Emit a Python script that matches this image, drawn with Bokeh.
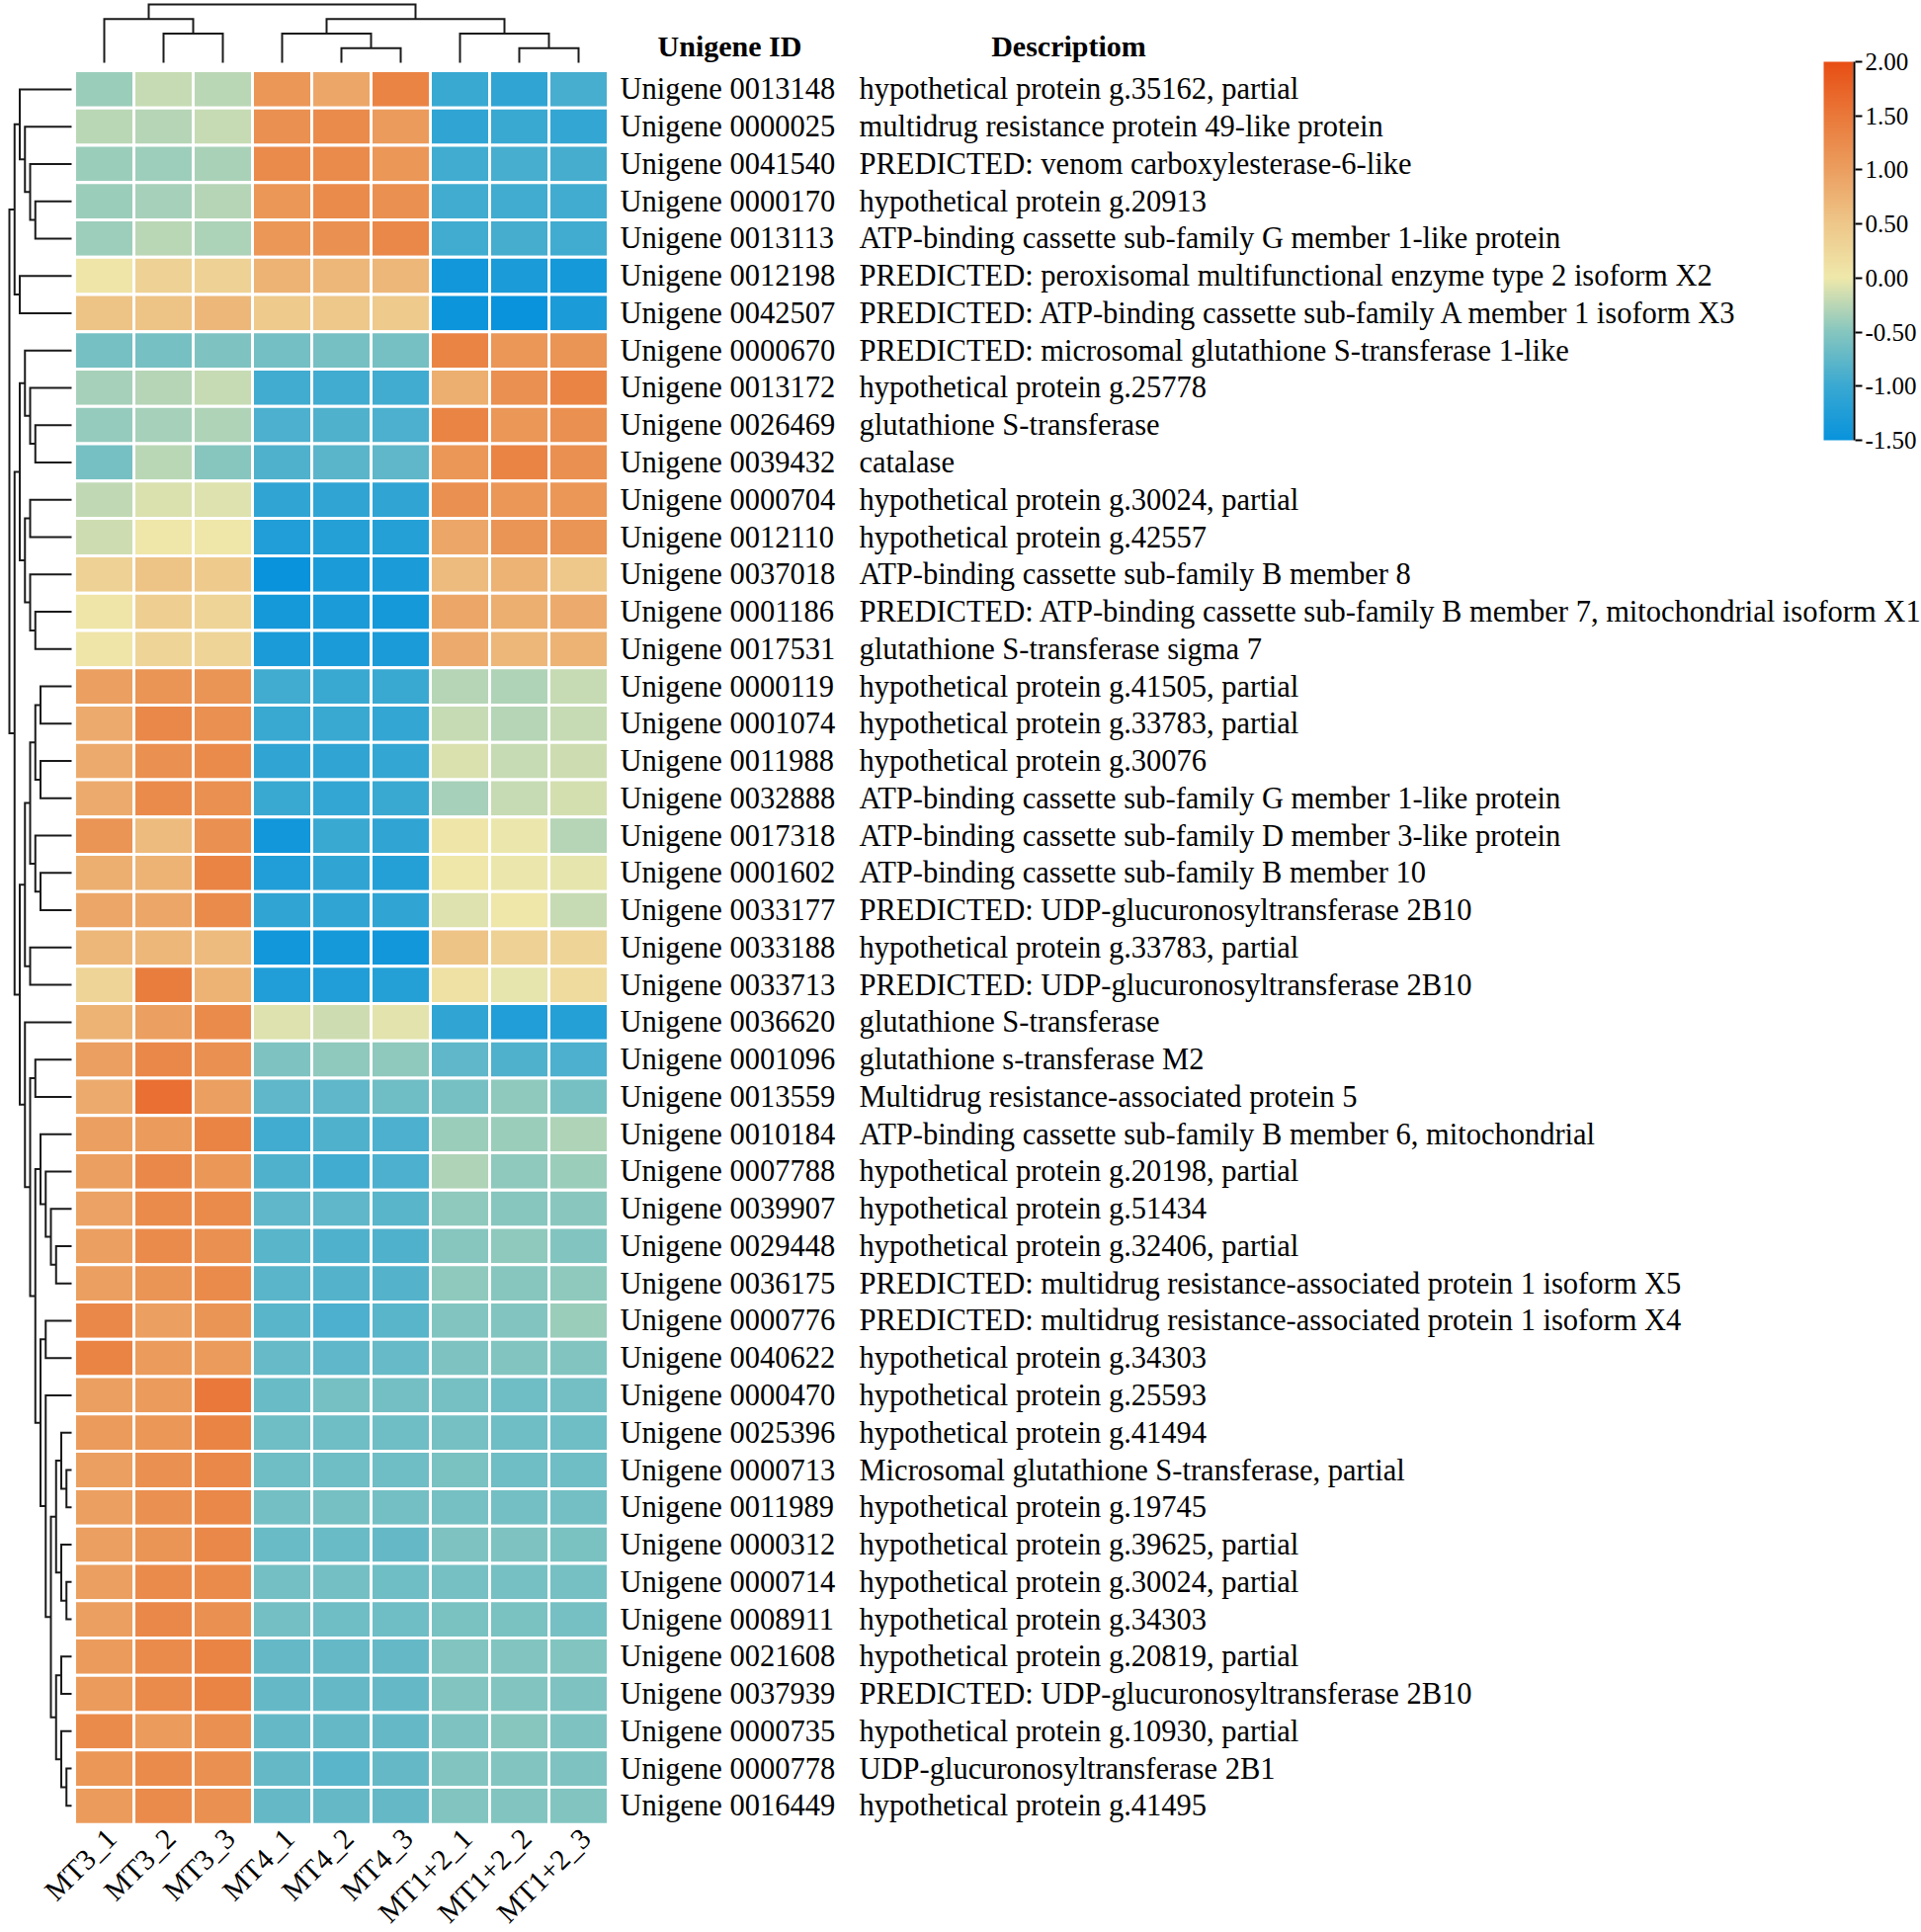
import numpy as np
from bokeh.plotting import figure
from bokeh.models import (ColumnDataSource, LinearColorMapper, ColorBar, FixedTicker,
                          PrintfTickFormatter, Range1d)
from bokeh.transform import transform
from bokeh.core.properties import value
from bokeh.embed import file_html
from bokeh.resources import INLINE

# ---------------- data ----------------
samples = ["MT3_1", "MT3_2", "MT3_3", "MT4_1", "MT4_2", "MT4_3", "MT1+2_1", "MT1+2_2", "MT1+2_3"]

unigene_ids = [
    "0013148", "0000025", "0041540", "0000170", "0013113", "0012198", "0042507", "0000670",
    "0013172", "0026469", "0039432", "0000704", "0012110", "0037018", "0001186", "0017531",
    "0000119", "0001074", "0011988", "0032888", "0017318", "0001602", "0033177", "0033188",
    "0033713", "0036620", "0001096", "0013559", "0010184", "0007788", "0039907", "0029448",
    "0036175", "0000776", "0040622", "0000470", "0025396", "0000713", "0011989", "0000312",
    "0000714", "0008911", "0021608", "0037939", "0000735", "0000778", "0016449"]

descriptions = [
    "hypothetical protein g.35162, partial",
    "multidrug resistance protein 49-like protein",
    "PREDICTED: venom carboxylesterase-6-like",
    "hypothetical protein g.20913",
    "ATP-binding cassette sub-family G member 1-like protein",
    "PREDICTED: peroxisomal multifunctional enzyme type 2 isoform X2",
    "PREDICTED: ATP-binding cassette sub-family A member 1 isoform X3",
    "PREDICTED: microsomal glutathione S-transferase 1-like",
    "hypothetical protein g.25778",
    "glutathione S-transferase",
    "catalase",
    "hypothetical protein g.30024, partial",
    "hypothetical protein g.42557",
    "ATP-binding cassette sub-family B member 8",
    "PREDICTED: ATP-binding cassette sub-family B member 7, mitochondrial isoform X1",
    "glutathione S-transferase sigma 7",
    "hypothetical protein g.41505, partial",
    "hypothetical protein g.33783, partial",
    "hypothetical protein g.30076",
    "ATP-binding cassette sub-family G member 1-like protein",
    "ATP-binding cassette sub-family D member 3-like protein",
    "ATP-binding cassette sub-family B member 10",
    "PREDICTED: UDP-glucuronosyltransferase 2B10",
    "hypothetical protein g.33783, partial",
    "PREDICTED: UDP-glucuronosyltransferase 2B10",
    "glutathione S-transferase",
    "glutathione s-transferase M2",
    "Multidrug resistance-associated protein 5",
    "ATP-binding cassette sub-family B member 6, mitochondrial",
    "hypothetical protein g.20198, partial",
    "hypothetical protein g.51434",
    "hypothetical protein g.32406, partial",
    "PREDICTED: multidrug resistance-associated protein 1 isoform X5",
    "PREDICTED: multidrug resistance-associated protein 1 isoform X4",
    "hypothetical protein g.34303",
    "hypothetical protein g.25593",
    "hypothetical protein g.41494",
    "Microsomal glutathione S-transferase, partial",
    "hypothetical protein g.19745",
    "hypothetical protein g.39625, partial",
    "hypothetical protein g.30024, partial",
    "hypothetical protein g.34303",
    "hypothetical protein g.20819, partial",
    "PREDICTED: UDP-glucuronosyltransferase 2B10",
    "hypothetical protein g.10930, partial",
    "UDP-glucuronosyltransferase 2B1",
    "hypothetical protein g.41495"]

# z-scores per sample (rows in the order above)
mt3_1 = [-0.40, -0.25, -0.40, -0.40, -0.38, 0.05, 0.55, -0.60, -0.35, -0.42, -0.60, -0.22, -0.15, 0.35, 0.05, 0.05,
         1.00, 0.85, 0.85, 0.85, 1.15, 0.80, 0.90, 0.70, 0.30, 0.75, 1.00, 0.85, 1.00, 1.00, 0.95,
         1.00, 1.00, 1.30, 1.35, 1.00, 1.05, 1.00, 1.00, 1.00, 1.00, 1.00, 1.05, 1.05, 1.25, 1.10, 1.05]
mt3_2 = [-0.20, -0.28, -0.38, -0.35, -0.25, 0.35, 0.55, -0.60, -0.28, -0.35, -0.25, -0.10, 0.02, 0.55, 0.40, 0.30,
         1.15, 1.30, 1.20, 1.25, 0.65, 0.75, 0.90, 0.70, 1.45, 1.00, 1.30, 1.60, 1.05, 1.30, 1.25,
         1.25, 1.15, 1.00, 1.05, 1.05, 1.10, 1.20, 1.20, 1.15, 1.25, 1.30, 1.25, 1.25, 1.05, 1.25, 1.25]
mt3_3 = [-0.25, -0.20, -0.33, -0.28, -0.32, 0.35, 0.70, -0.55, -0.20, -0.30, -0.50, -0.08, 0.02, 0.45, 0.30, 0.30,
         1.15, 1.20, 1.25, 1.20, 1.20, 1.35, 1.25, 0.65, 0.75, 1.25, 1.20, 1.00, 1.35, 1.10, 1.25,
         1.20, 1.25, 1.15, 1.05, 1.50, 1.35, 1.30, 1.30, 1.30, 1.25, 1.20, 1.35, 1.35, 1.20, 1.20, 1.20]
mt4_1 = [1.10, 1.20, 1.25, 1.10, 1.10, 0.75, 0.45, -0.62, -0.95, -0.88, -0.85, -1.10, -1.25, -1.50, -1.35, -1.30,
         -0.95, -1.00, -1.10, -1.00, -1.40, -1.25, -1.10, -1.40, -1.25, -0.08, -0.55, -0.75, -0.95, -0.85, -0.75,
         -0.80, -0.78, -0.80, -0.70, -0.68, -0.65, -0.65, -0.62, -0.68, -0.62, -0.62, -0.72, -0.72, -0.72, -0.72, -0.72]
mt4_2 = [0.90, 1.25, 1.25, 1.25, 1.20, 0.70, 0.50, -0.60, -0.95, -0.85, -0.78, -1.10, -1.20, -1.30, -1.30, -1.30,
         -1.00, -1.00, -1.10, -1.05, -1.00, -1.10, -1.10, -1.35, -1.25, -0.15, -0.45, -0.75, -0.85, -0.95, -0.75,
         -0.85, -0.82, -0.88, -0.75, -0.60, -0.65, -0.65, -0.60, -0.68, -0.62, -0.65, -0.72, -0.72, -0.72, -0.78, -0.72]
mt4_3 = [1.35, 1.05, 1.10, 1.20, 1.30, 0.70, 0.45, -0.60, -0.95, -0.88, -0.75, -1.10, -1.20, -1.30, -1.35, -1.30,
         -1.00, -1.05, -1.05, -1.00, -1.10, -1.20, -1.10, -1.40, -1.20, -0.06, -0.45, -0.65, -0.88, -0.88, -0.80,
         -0.85, -0.82, -0.80, -0.70, -0.62, -0.65, -0.65, -0.62, -0.72, -0.65, -0.65, -0.72, -0.72, -0.72, -0.72, -0.72]
mt12_1 = [-1.00, -1.10, -0.95, -0.95, -0.95, -1.40, -1.45, 1.35, 0.80, 1.35, 1.10, 1.20, 0.90, 0.65, 0.90, 0.85,
          -0.28, -0.20, -0.10, -0.35, 0.05, 0.02, -0.08, 0.55, 0.10, -1.10, -0.75, -0.60, -0.40, -0.30, -0.45,
          -0.50, -0.45, -0.52, -0.55, -0.60, -0.60, -0.58, -0.60, -0.55, -0.60, -0.58, -0.52, -0.52, -0.55, -0.52, -0.52]
mt12_2 = [-1.10, -1.00, -0.90, -0.95, -0.92, -1.30, -1.50, 1.10, 1.20, 1.10, 1.35, 1.10, 1.15, 0.75, 0.80, 0.70,
          -0.30, -0.28, -0.20, -0.20, -0.02, -0.02, 0.02, 0.35, -0.05, -1.25, -0.85, -0.45, -0.40, -0.45, -0.50,
          -0.45, -0.50, -0.52, -0.52, -0.65, -0.65, -0.65, -0.62, -0.55, -0.60, -0.58, -0.52, -0.52, -0.50, -0.52, -0.52]
mt12_3 = [-0.90, -1.05, -0.92, -0.95, -0.95, -1.35, -1.30, 1.15, 1.35, 1.20, 1.20, 1.10, 1.15, 0.50, 0.85, 0.75,
          -0.20, -0.20, -0.15, -0.12, -0.28, -0.05, -0.20, 0.30, 0.20, -1.20, -0.88, -0.60, -0.30, -0.40, -0.48,
          -0.52, -0.45, -0.40, -0.52, -0.62, -0.65, -0.65, -0.62, -0.58, -0.60, -0.60, -0.52, -0.55, -0.55, -0.55, -0.52]
columns = [mt3_1, mt3_2, mt3_3, mt4_1, mt4_2, mt4_3, mt12_1, mt12_2, mt12_3]

# dendrograms: (left, right, merge level); ints are leaf indices
col_tree = ((0, (1, 2, 2), 3), ((3, (4, 5, 1), 2), (6, (7, 8, 1), 2), 3), 4)
_G = (((36, (37, 38, 1), 2), (39, (40, 41, 1), 2), 3), ((42, 43, 2), (44, (45, 46, 1), 2), 3), 4)
_E = ((26, 27, 7), ((28, (29, (30, (31, 32, 3), 4), 5), 6), ((33, 34, 5), (35, _G, 5), 6), 7), 8)
_C = (((((16, 17, 6), (18, 19, 6), 7), (20, (21, 22, 6), 7), 8), (23, 24, 8), 9), (25, _E, 9), 10)
_B = ((7, (8, (9, 10, 7), 8), 9), ((11, 12, 8), (13, (14, 15, 7), 8), 9), 10)
_A = ((0, (1, (2, (3, 4, 7), 8), 9), 10), (5, 6, 10), 11)
row_tree = (_A, (_B, _C, 11), 12)

tick_values = [-1.5, -1.0, -0.5, 0.0, 0.5, 1.0, 1.5, 2.0]

# ---------------- layout ----------------
W, H = 1944, 1955
CELL_W, CELL_H = 60.0, 37.76
X0_PX, Y0_PX = 75, 71  # heatmap top-left on canvas
x_start = -X0_PX / CELL_W
y_top = -Y0_PX / CELL_H

p = figure(width=W, height=H, output_backend="svg", toolbar_location=None,
           x_range=Range1d(x_start, x_start + W / CELL_W),
           y_range=Range1d(y_top + H / CELL_H, y_top),
           min_border=0, x_axis_location=None, y_axis_location=None)
p.grid.visible = False
p.outline_line_color = None
p.background_fill_color = "white"

# palette (interpolated between anchor colours of the reference colour key)
anchors = [(-1.5, "#0893dc"), (-1.0, "#3aa9d2"), (-0.5, "#86c6bf"), (0.0, "#efe8ab"),
           (0.5, "#eec78a"), (1.0, "#eb9f60"), (1.5, "#e9793a"), (2.0, "#e84e14")]
def _rgb(h):
    return [int(h[i:i + 2], 16) for i in (1, 3, 5)]
av = [a for a, _ in anchors]
ac = np.array([_rgb(c) for _, c in anchors], dtype=float)
pal = []
for t in np.linspace(-1.5, 2.0, 256):
    rgb = [np.interp(t, av, ac[:, k]) for k in range(3)]
    pal.append("#%02x%02x%02x" % tuple(int(round(v)) for v in rgb))
mapper = LinearColorMapper(palette=pal, low=-1.5, high=2.0)

# heatmap cells
xs, ys, vals = [], [], []
for ci, col in enumerate(columns):
    for ri, v in enumerate(col):
        xs.append(ci + 0.5)
        ys.append(ri + 0.5)
        vals.append(v)
src = ColumnDataSource(dict(x=xs, y=ys, v=vals))
p.rect(x="x", y="y", width=1, height=1, source=src, fill_color=transform("v", mapper),
       line_color="white", line_width=3)

# dendrograms
def build(node, paths):
    if isinstance(node, int):
        return node + 0.5, 0.0
    a, b, h = node
    pa, ha = build(a, paths)
    pb, hb = build(b, paths)
    paths.append(([ha, h, h, hb], [pa, pa, pb, pb]))
    return (pa + pb) / 2.0, h

row_paths = []
build(row_tree, row_paths)
leaf_x = -3 / CELL_W
kx = ((75 - 9) / CELL_W - 3 / CELL_W) / 12.0
p.multi_line(xs=[[leaf_x - h * kx for h in hs] for hs, _ in row_paths],
             ys=[ps for _, ps in row_paths], line_color="#1a1a1a", line_width=2,
             line_join="miter")

col_paths = []
build(col_tree, col_paths)
leaf_y = -8 / CELL_H
ky = ((71 - 4) / CELL_H - 8 / CELL_H) / 4.0
p.multi_line(xs=[ps for _, ps in col_paths],
             ys=[[leaf_y - h * ky for h in hs] for hs, _ in col_paths],
             line_color="#1a1a1a", line_width=2, line_join="miter")

# row labels
FONT = value("Liberation Serif")
n = len(unigene_ids)
lab = ColumnDataSource(dict(y=[i + 0.5 for i in range(n)],
                            ids=["Unigene " + u for u in unigene_ids],
                            desc=descriptions))
p.text(x=(627 - 75) / CELL_W, y="y", text="ids", source=lab, text_font=FONT,
       text_font_size="30.5px", text_baseline="middle", text_align="left", text_color="black")
p.text(x=(869 - 75) / CELL_W, y="y", text="desc", source=lab, text_font=FONT,
       text_font_size="30.5px", text_baseline="middle", text_align="left", text_color="black")

# headers
p.text(x=[(738 - 75) / CELL_W, (1081 - 75) / CELL_W], y=[(46 - 71) / CELL_H] * 2,
       text=["Unigene ID", "Descriptiom"], text_font=FONT, text_font_size="30px",
       text_font_style="bold", text_align="center", text_baseline="middle", text_color="black")

# column labels (rotated)
p.text(x=[i + 0.62 for i in range(len(samples))], y=[n + 0.24] * len(samples), text=samples,
       angle=np.pi / 4, text_font=FONT, text_font_size="29.5px", text_align="right",
       text_baseline="middle", text_color="black")

# colour key
cb_h = 445 - 62
cb_y = H - 445
cb = ColorBar(color_mapper=mapper, location=(1845, cb_y), width=30, height=cb_h, padding=0,
              ticker=FixedTicker(ticks=[]), bar_line_color=None, major_tick_line_color=None,
              background_fill_color=None, border_line_color=None)
p.add_layout(cb)
axis_mapper = LinearColorMapper(palette=["#000000"], low=-1.5, high=2.0)
cb2 = ColorBar(color_mapper=axis_mapper, location=(1875, cb_y), width=2, height=cb_h, padding=0,
               ticker=FixedTicker(ticks=tick_values), formatter=PrintfTickFormatter(format="%.2f"),
               major_tick_in=0, major_tick_out=7, major_tick_line_color="black",
               major_tick_line_width=2, label_standoff=3,
               major_label_text_font="Liberation Serif", major_label_text_font_size="25px",
               major_label_text_color="black", bar_line_color=None,
               background_fill_color=None, border_line_color=None)
p.add_layout(cb2)

open("out.html", "w").write(file_html(p, INLINE))
